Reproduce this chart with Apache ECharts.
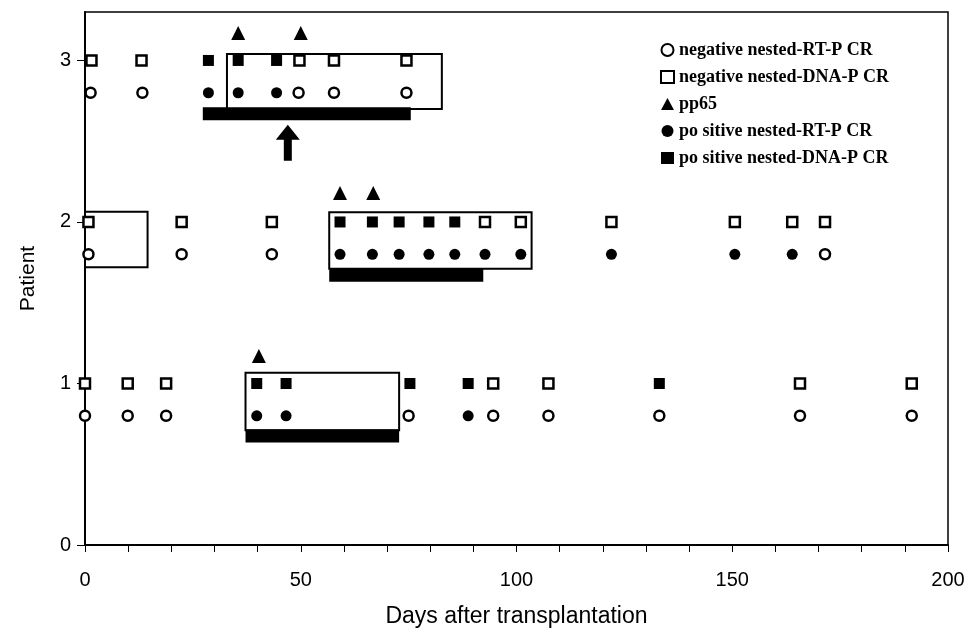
<!DOCTYPE html>
<html>
<head>
<meta charset="utf-8">
<script src="https://cdn.jsdelivr.net/npm/echarts@6/dist/echarts.min.js"></script>
<style>html,body{margin:0;padding:0;background:#fff}#c{width:970px;height:639px}</style>
</head>
<body>
<div id="c"></div>
<script>
// ---- data: [day, patient-row value] ----
const xTicks = [0, 50, 100, 150, 200];
const yTicks = [0, 1, 2, 3];
const legendNames = ['negative nested-RT-P CR', 'negative nested-DNA-P CR', 'pp65', 'po sitive nested-RT-P CR', 'po sitive nested-DNA-P CR'];

const negRT = [
  [1.3, 2.8], [13.3, 2.8], [49.5, 2.8], [57.7, 2.8], [74.5, 2.8],
  [0.8, 1.8], [22.4, 1.8], [43.3, 1.8], [171.5, 1.8],
  [0, 0.8], [9.9, 0.8], [18.8, 0.8], [75, 0.8], [94.6, 0.8], [107.4, 0.8], [133.1, 0.8], [165.7, 0.8], [191.6, 0.8]
];
const negDNA = [
  [1.5, 3], [13.1, 3], [49.7, 3], [57.7, 3], [74.5, 3],
  [0.8, 2], [22.4, 2], [43.3, 2], [92.7, 2], [101, 2], [122, 2], [150.6, 2], [163.9, 2], [171.5, 2],
  [0, 1], [9.9, 1], [18.8, 1], [94.6, 1], [107.4, 1], [165.7, 1], [191.6, 1]
];
const pp65 = [
  [35.5, 3.17], [50, 3.17],
  [59.1, 2.18], [66.8, 2.18],
  [40.3, 1.17]
];
const posRT = [
  [28.6, 2.8], [35.5, 2.8], [44.4, 2.8],
  [59.1, 1.8], [66.6, 1.8], [72.8, 1.8], [79.7, 1.8], [85.7, 1.8], [92.7, 1.8], [101, 1.8], [122, 1.8], [150.6, 1.8], [163.9, 1.8],
  [39.8, 0.8], [46.6, 0.8], [88.8, 0.8]
];
const posDNA = [
  [28.6, 3], [35.5, 3], [44.4, 3],
  [59.1, 2], [66.6, 2], [72.8, 2], [79.7, 2], [85.7, 2],
  [39.8, 1], [46.6, 1], [75.3, 1], [88.8, 1], [133.1, 1]
];
// boxes: [dayStart, dayEnd, yLow, yHigh]
const boxes = [
  [32.9, 82.7, 2.70, 3.04],
  [0, 14.5, 1.72, 2.064],
  [56.6, 103.5, 1.71, 2.06],
  [37.2, 72.8, 0.71, 1.066]
];
// bars: [dayStart, dayEnd, y]
const bars = [
  [27.3, 75.5, 2.67],
  [56.6, 92.3, 1.67],
  [37.2, 72.8, 0.675]
];
// arrow: [day, y]
const arrow = [[47, 2.49]];

const chart = echarts.init(document.getElementById('c'), null, {renderer: 'canvas'});
const openStyle = {color: '#fff', borderColor: '#000', borderWidth: 2.5, opacity: 1};
const fillStyle = {color: '#000', opacity: 1};

chart.setOption({
  animation: false,
  backgroundColor: '#fff',
  grid: {left: 85, right: 22, top: 12, bottom: 94, show: true, borderColor: '#000', borderWidth: 1.5, backgroundColor: 'transparent'},
  legend: {
    orient: 'vertical', left: 655, top: 36, itemWidth: 13, itemHeight: 12, itemGap: 9,
    data: legendNames,
    textStyle: {fontFamily: 'Liberation Serif', fontWeight: 'bold', fontSize: 18, lineHeight: 18, color: '#000'}
  },
  xAxis: {
    type: 'value', min: 0, max: 200, interval: 10,
    name: 'Days after transplantation', nameLocation: 'middle', nameGap: 60,
    nameTextStyle: {fontFamily: 'Liberation Sans', fontSize: 23, color: '#000'},
    axisLine: {lineStyle: {color: '#000', width: 2}},
    axisTick: {length: 7, lineStyle: {color: '#000', width: 1}},
    axisLabel: {customValues: xTicks, margin: 25, fontFamily: 'Liberation Sans', fontSize: 20, color: '#000'},
    splitLine: {show: false}
  },
  yAxis: {
    type: 'value', min: 0, max: 3.3, interval: 1,
    name: 'Patient', nameLocation: 'middle', nameGap: 46,
    nameTextStyle: {fontFamily: 'Liberation Sans', fontSize: 21, color: '#000'},
    axisLine: {show: true, lineStyle: {color: '#000', width: 2}},
    axisTick: {show: true, length: 8, customValues: yTicks, lineStyle: {color: '#000', width: 1}},
    axisLabel: {customValues: yTicks, margin: 14, fontFamily: 'Liberation Sans', fontSize: 20, color: '#000'},
    splitLine: {show: false}
  },
  series: [
    {
      type: 'custom', name: 'boxes', z: 1, data: boxes,
      renderItem: function (params, api) {
        const a = api.coord([api.value(0), api.value(3)]);
        const b = api.coord([api.value(1), api.value(2)]);
        return {type: 'rect', shape: {x: a[0], y: a[1], width: b[0] - a[0], height: b[1] - a[1]},
          style: {fill: 'none', stroke: '#000', lineWidth: 2}};
      }
    },
    {
      type: 'custom', name: 'bars', z: 1, data: bars,
      renderItem: function (params, api) {
        const a = api.coord([api.value(0), api.value(2)]);
        const b = api.coord([api.value(1), api.value(2)]);
        return {type: 'rect', shape: {x: a[0], y: a[1] - 6.5, width: b[0] - a[0], height: 13},
          style: {fill: '#000'}};
      }
    },
    {
      type: 'scatter', name: 'arrow', z: 2, data: arrow, symbolSize: [24, 36],
      symbol: 'path://M12,0 L24,15 L16,15 L16,36 L8,36 L8,15 L0,15 Z',
      itemStyle: {color: '#000', opacity: 1}
    },
    {type: 'scatter', name: legendNames[0], z: 3, data: negRT, symbol: 'circle', symbolSize: 10, itemStyle: openStyle},
    {type: 'scatter', name: legendNames[1], z: 3, data: negDNA, symbol: 'rect', symbolSize: 10, itemStyle: openStyle},
    {type: 'scatter', name: legendNames[2], z: 3, data: pp65, symbol: 'triangle', symbolSize: 14, itemStyle: fillStyle},
    {type: 'scatter', name: legendNames[3], z: 3, data: posRT, symbol: 'circle', symbolSize: 11, itemStyle: fillStyle},
    {type: 'scatter', name: legendNames[4], z: 3, data: posDNA, symbol: 'rect', symbolSize: 11, itemStyle: fillStyle}
  ]
});
</script>
</body>
</html>
